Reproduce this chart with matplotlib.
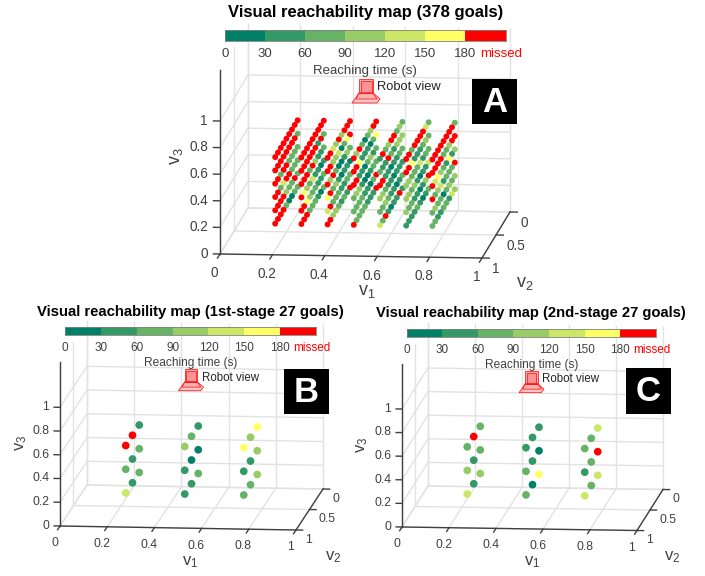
import numpy as np
import matplotlib
matplotlib.use('Agg')
import matplotlib.pyplot as plt
from matplotlib.colors import ListedColormap
from matplotlib.patches import Polygon, Rectangle

plt.rcParams['font.family'] = ['Liberation Sans', 'DejaVu Sans']
plt.rcParams['mathtext.default'] = 'regular'

W, H = 705, 576

# reaching time classes, last one is "missed"
colors = ['#008066', '#339966', '#66b366', '#99cc66', '#cce666', '#ffff66', '#ff0000']
bar_ticks = [0, 30, 60, 90, 120, 150, 180]
x_ticks = [0, 0.2, 0.4, 0.6, 0.8, 1]
x_tick_labels = ['0', '0.2', '0.4', '0.6', '0.8', '1']
y_ticks = [0, 0.5, 1]
y_tick_labels = ['0', '0.5', '1']
z_ticks = [0, 0.2, 0.4, 0.6, 0.8, 1]
z_tick_labels = ['0', '0.2', '0.4', '0.6', '0.8', '1']

# panel A goals: one entry per v1, one string per v3, one char per v2 (0.9 down to 0.1)
a_v1 = [0.2, 0.3, 0.4, 0.5, 0.6, 0.7, 0.8]
a_v2 = [0.9, 0.8, 0.7, 0.6, 0.5, 0.4, 0.3, 0.2, 0.1]
a_v3 = [0.2, 0.3, 0.4, 0.5, 0.6, 0.7]
a_classes = [
    ['666620022', '666632262', '662466222', '662662222', '666666662', '666666666'],
    ['666222102', '665322112', '653241101', '666263112', '666666162', '666666666'],
    ['663321216', '462221122', '562310110', '636200132', '663340256', '664363666'],
    ['622221116', '222211026', '233100122', '661102312', '665111025', '636202366'],
    ['426101161', '223211012', '332110111', '661101122', '211621333', '162366232'],
    ['111121012', '322110136', '332310114', '332224122', '665111232', '662666642'],
    ['221122143', '232202323', '623412226', '645321513', '666622366', '666666662'],
]

# panels B and C goals
bc_v1 = [0.25, 0.5, 0.75]
bc_v2 = [0.75, 0.5, 0.25]
bc_v3 = [0.2, 0.4, 0.6]
b_classes = [
    ['412', '212', '661'],
    ['112', '100', '321'],
    ['223', '113', '535'],
]
c_classes = [
    ['413', '312', '262'],
    ['205', '210', '111'],
    ['424', '126', '224'],
]

Z_TOP = 1.38


def flatten(v1, v2, v3, classes):
    xs, ys, zs, cs = [], [], [], []
    for i, x in enumerate(v1):
        for k, z in enumerate(v3):
            for j, y in enumerate(v2):
                xs.append(x)
                ys.append(y)
                zs.append(z)
                cs.append(colors[int(classes[i][k][j])])
    return xs, ys, zs, cs


def make_3d(fig, origin, x_vec, y_vec, z_unit):
    # origin is the pixel of v1=0, v2=1, v3=0; solve the MATLAB style view from the box edges
    a = x_vec[1] / x_vec[0]
    b = y_vec[0] / -y_vec[1]
    tan_d = np.sqrt(a * b)
    sin_el = tan_d / b
    d = np.arctan(tan_d)
    el = np.arcsin(sin_el)
    z_len = z_unit * Z_TOP
    raw = np.array([x_vec[0] / np.cos(d), y_vec[0] / np.sin(d), z_len / np.cos(el)])
    norm = 1.8294640721620434 * 25 / 24 / np.linalg.norm(raw)
    S = 1.85 / norm
    cx = origin[0] + 0.5 * (x_vec[0] + y_vec[0])
    cy = origin[1] + 0.5 * (x_vec[1] + y_vec[1] - z_len)
    left = cx - S * 0.095 / 0.185
    bottom = (H - cy) - S * 0.095 / 0.185
    ax = fig.add_axes([left / W, bottom / H, S / W, S / H], projection='3d', proj_type='ortho')
    ax.set_box_aspect(raw)
    ax.view_init(elev=np.degrees(el), azim=-90 + np.degrees(d))
    ax.set_xlim(0, 1, view_margin=0)
    ax.set_ylim(1, 0, view_margin=0)
    ax.set_zlim(0, Z_TOP, view_margin=0)
    # ticks and labels are drawn by hand in draw_box
    ax.set_xticks([])
    ax.set_yticks([])
    ax.set_zticks([])
    ax.set_axis_off()
    ax.patch.set_visible(False)
    ax.computed_zorder = False
    return ax


def draw_box(ax, tick_size):
    grid = '#e2e2e2'
    dark = '#404040'
    for x in x_ticks:
        ax.plot([x, x], [0, 0], [0, Z_TOP], color=grid, lw=1, zorder=1)
        ax.plot([x, x], [0, 1], [0, 0], color=grid, lw=1, zorder=1)
    for y in y_ticks:
        ax.plot([0, 1], [y, y], [0, 0], color=grid, lw=1, zorder=1)
        ax.plot([0, 0], [y, y], [0, Z_TOP], color=grid, lw=1, zorder=1)
    for z in z_ticks:
        ax.plot([0, 1], [0, 0], [z, z], color=grid, lw=1, zorder=1)
        ax.plot([0, 0], [0, 1], [z, z], color=grid, lw=1, zorder=1)

    ax.plot([0, 1], [1, 1], [0, 0], color=dark, lw=1, zorder=2)
    ax.plot([1, 1], [1, 0], [0, 0], color=dark, lw=1, zorder=2)
    ax.plot([0, 0], [1, 1], [0, Z_TOP], color=dark, lw=1, zorder=2)
    for x, lab in zip(x_ticks, x_tick_labels):
        ax.plot([x, x], [1, 1.09], [0, 0], color=dark, lw=1, zorder=2)
        ax.text(x, 1.2, -0.075, lab, ha='center', va='center', fontsize=tick_size, color=dark)
    for y, lab in zip(y_ticks, y_tick_labels):
        ax.plot([1, 1.028], [y, y], [0, 0], color=dark, lw=1, zorder=2)
        ax.text(1.04, y, -0.08, lab, ha='left', va='center', fontsize=tick_size, color=dark)
    for z, lab in zip(z_ticks, z_tick_labels):
        ax.plot([0, -0.025], [1, 1], [z, z], color=dark, lw=1, zorder=2)
        ax.text(-0.046, 1, z, lab, ha='right', va='center', fontsize=tick_size, color=dark)


def draw_bar(fig, x0, x1, y0, y1, label_y, tick_size):
    ax = fig.add_axes([x0 / W, 1 - y1 / H, (x1 - x0) / W, (y1 - y0) / H])
    edges = np.arange(0, 211, 30)
    ax.pcolormesh(edges, [0, 1], np.arange(7).reshape(1, 7), cmap=ListedColormap(colors),
                  vmin=-0.5, vmax=6.5)
    ax.set_xticks([])
    ax.set_yticks([])
    for s in ax.spines.values():
        s.set_color('#808080')
        s.set_linewidth(0.6)
    # labels on one line, in axes units below the bar
    y_lab = 0 - (label_y - y1) / (y1 - y0)
    trans = ax.get_xaxis_transform()
    for t in bar_ticks:
        ax.text(t, y_lab, str(t), color='#404040', fontsize=tick_size, ha='center', va='center',
                transform=trans, clip_on=False)
    ax.text(206.5, y_lab, 'missed', color='red', fontsize=tick_size, ha='center', va='center',
            transform=trans, clip_on=False)
    return ax


def draw_camera(fig, cx, cy, s, text_x, text_y, text_size):
    # little camera frustum, offsets in pixels from its centre
    def px(points):
        return [((cx + s * p[0]) / W, 1 - (cy + s * p[1]) / H) for p in points]
    parts = [
        ([(-7, -12), (7, -12), (7, 2), (-7, 2)], 0.32),
        ([(-5.5, -10.5), (5.5, -10.5), (5.5, 2), (-5.5, 2)], 0.15),
        ([(-7, 2), (7, 2), (14, 8), (11, 12), (-14, 12)], 0.22),
        ([(-7, 2), (7, 2), (11, 8), (-10, 8)], 0.1),
    ]
    for pts, alpha in parts:
        fig.add_artist(Polygon(px(pts), closed=True, transform=fig.transFigure,
                               facecolor=(1, 0, 0, alpha), edgecolor='#ff2020', lw=0.6))
    fig.text(text_x / W, 1 - text_y / H, 'Robot view', fontsize=text_size,
             color='#262626', ha='left', va='center')


def draw_tag(fig, x0, x1, y0, y1, letter):
    fig.add_artist(Rectangle((x0 / W, 1 - y1 / H), (x1 - x0) / W, (y1 - y0) / H,
                             transform=fig.transFigure, facecolor='black', edgecolor='none'))
    fig.text((x0 + x1) / 2 / W, 1 - ((y0 + y1) / 2 + 0.5) / H, letter, color='white', fontsize=25,
             fontweight='bold', ha='center', va='center')


def label(fig, x, y, text, size, **kw):
    fig.text(x / W, 1 - y / H, text, fontsize=size, ha='center', va='center', **kw)


fig = plt.figure(figsize=(W / 100, H / 100), dpi=100)

# panel A
ax_a = make_3d(fig, (220, 254), (262, 4), (28, -46), 133)
draw_box(ax_a, 9.8)
xs, ys, zs, cs = flatten(a_v1, a_v2, a_v3, a_classes)
ax_a.scatter(xs, ys, zs, c=cs, s=18, depthshade=False, linewidths=0, zorder=3)
draw_bar(fig, 225, 505.5, 30, 40.5, 54, 9.5)
label(fig, 366, 13, 'Visual reachability map (378 goals)', 11.95, fontweight='bold', color='black')
label(fig, 365, 71, 'Reaching time (s)', 9.5, color='#404040')
draw_camera(fig, 366, 91, 1.0, 377, 87, 9.3)
draw_tag(fig, 472, 517, 79, 124, 'A')
label(fig, 367, 292, r'v$_{1}$', 13, color='#404040')
label(fig, 525, 283, r'v$_{2}$', 13, color='#404040')
label(fig, 177, 156, r'v$_{3}$', 13, color='#404040', rotation=90)

# panel B
ax_b = make_3d(fig, (60, 526), (236, 4), (27, -41), 118.7)
draw_box(ax_b, 8.8)
xs, ys, zs, cs = flatten(bc_v1, bc_v2, bc_v3, b_classes)
ax_b.scatter(xs, ys, zs, c=cs, s=31, depthshade=False, linewidths=0, zorder=3)
draw_bar(fig, 65, 316, 327.3, 335.3, 348, 8.5)
label(fig, 190, 312, 'Visual reachability map (1st-stage 27 goals)', 10.7, fontweight='bold', color='black')
label(fig, 190.5, 363, 'Reaching time (s)', 8.6, color='#404040')
draw_camera(fig, 191, 380, 0.89, 201.7, 377.7, 8.3)
draw_tag(fig, 284, 329, 369, 414, 'B')
label(fig, 190, 562, r'v$_{1}$', 12, color='#404040')
label(fig, 333, 557, r'v$_{2}$', 12, color='#404040')
label(fig, 21, 443, r'v$_{3}$', 12, color='#404040', rotation=90)

# panel C
ax_c = make_3d(fig, (402, 527), (235, 3.5), (26, -41), 118)
draw_box(ax_c, 8.8)
xs, ys, zs, cs = flatten(bc_v1, bc_v2, bc_v3, c_classes)
ax_c.scatter(xs, ys, zs, c=cs, s=31, depthshade=False, linewidths=0, zorder=3)
draw_bar(fig, 406.7, 655.7, 329, 337, 349.5, 8.5)
label(fig, 531, 313, 'Visual reachability map (2nd-stage 27 goals)', 10.6, fontweight='bold', color='black')
label(fig, 531.5, 365, 'Reaching time (s)', 8.6, color='#404040')
draw_camera(fig, 531.5, 382, 0.89, 542, 379, 8.3)
draw_tag(fig, 626, 671, 368, 414, 'C')
label(fig, 532, 562, r'v$_{1}$', 12, color='#404040')
label(fig, 672, 557, r'v$_{2}$', 12, color='#404040')
label(fig, 362, 445, r'v$_{3}$', 12, color='#404040', rotation=90)

plt.savefig('out.png', dpi=100)
